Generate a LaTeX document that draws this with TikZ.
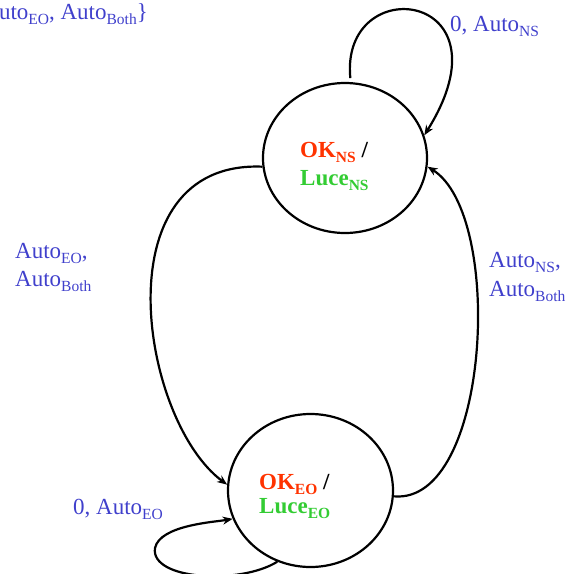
\documentclass[tikz,border=0pt]{standalone}
\usepackage{fontspec}
\setmainfont{Liberation Serif}
\usetikzlibrary{arrows.meta,shapes.geometric}
\definecolor{okred}{RGB}{255,51,0}
\definecolor{lucegreen}{RGB}{51,204,51}
\definecolor{lblue}{RGB}{64,64,204}
\newcommand\subx[1]{\raisebox{-0.22em}{\fontsize{15.5}{16}\selectfont #1}}
\tikzset{
  state/.style={draw,ellipse,line width=2.2pt,inner sep=0pt},
  edge/.style={line width=2.2pt,-{Stealth[length=10pt,width=8pt]}},
  lbl/.style={text=lblue,font=\fontsize{23}{28}\selectfont,align=left,inner sep=0pt},
  stxt/.style={font=\fontsize{23}{28.5}\selectfont\bfseries,align=left,inner sep=0pt}
}
\begin{document}
\begin{tikzpicture}[x=1pt,y=-1pt]
\useasboundingbox (0,0) rectangle (570,574);
\clip (0,0) rectangle (570,574);
\node[state,minimum width=164pt,minimum height=150pt] (ns) at (345,158) {};
\node[state,minimum width=165pt,minimum height=153pt] (eo) at (310.5,490.5) {};
\node[stxt,anchor=base west] (nst1) at (300,157) {\textcolor{okred}{OK\subx{NS}} /};
\node[stxt,anchor=base west] (nst2) at (300,185) {\textcolor{lucegreen}{Luce\subx{NS}}};
\node[stxt,anchor=base west] (eot1) at (259,489) {\textcolor{okred}{OK\subx{EO}} /};
\node[stxt,anchor=base west] (eot2) at (259,513) {\textcolor{lucegreen}{Luce\subx{EO}}};
% labels
\node[lbl,anchor=base east] (top) at (148,19) {Auto\subx{EO}, Auto\subx{Both}\}};
\node[lbl,anchor=base west] (l1) at (450,31) {0, Auto\subx{NS}};
\node[lbl,anchor=base west] (l2) at (15,258) {Auto\subx{EO},};
\node[lbl,anchor=base west] (l2b) at (15,286) {Auto\subx{Both}};
\node[lbl,anchor=base west] (l3) at (489,267) {Auto\subx{NS},};
\node[lbl,anchor=base west] (l3b) at (489,296) {Auto\subx{Both}};
\node[lbl,anchor=base west] (l4) at (73,514) {0, Auto\subx{EO}};
% edges
\draw[edge] (ns.86) ++(0,-4) .. controls (340,-30) and (515,-10) .. (ns.16);
\draw[edge] (ns.186) .. controls (100,160) and (140,420) .. (eo.176);
\draw[edge] (eo.-4) .. controls (490,505) and (505,215) .. (ns.-6);
\draw[edge] (eo.-115) .. controls (240,585) and (150,580) .. (155,548) .. controls (160,525) and (215,522) .. (eo.-160);
\end{tikzpicture}
\end{document}
